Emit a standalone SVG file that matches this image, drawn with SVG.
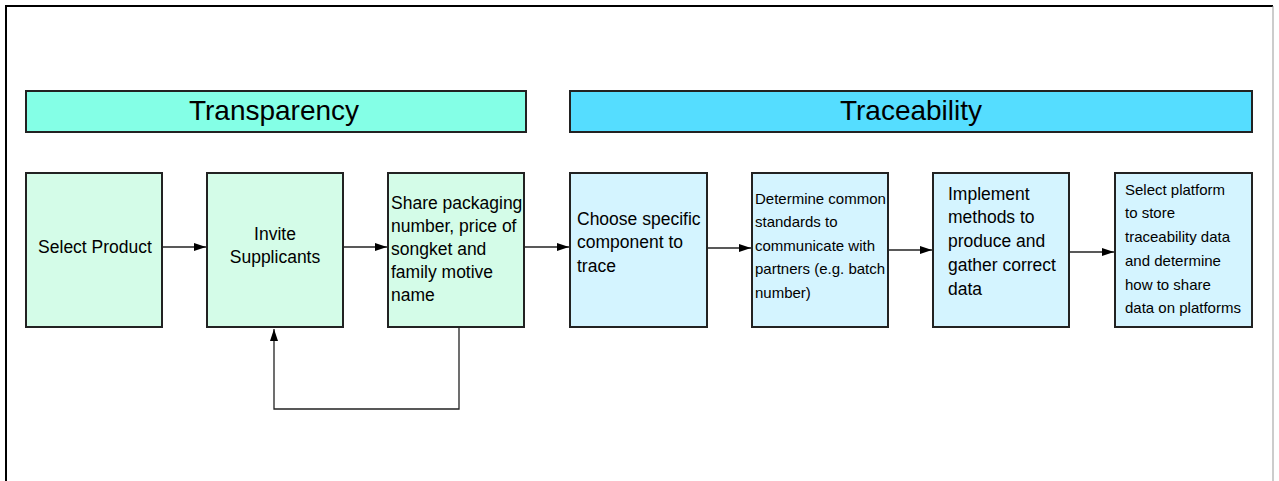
<svg xmlns="http://www.w3.org/2000/svg" width="1279" height="481" viewBox="0 0 1279 481">
<defs>
<marker id="ah" markerWidth="12" markerHeight="8" refX="12" refY="4" orient="auto" markerUnits="userSpaceOnUse"><path d="M0,0 L12,4 L0,8 Z" fill="#000"/></marker>
<style>
text{font-family:"Liberation Sans",Arial,sans-serif;fill:#000}
.hdr{font-size:28px;text-anchor:middle}
.t{font-size:17.5px}
.s{font-size:15px}
.c{text-anchor:middle}
.g{fill:#d4fce8;stroke:#222;stroke-width:2}
.b{fill:#d4f4ff;stroke:#222;stroke-width:2}
.conn{fill:none;stroke:#222;stroke-width:1.3}
</style>
</defs>
<rect x="0" y="0" width="1279" height="481" fill="#fff"/>
<path d="M6,481 L6,6 L1273,6" fill="none" stroke="#000" stroke-width="2"/>
<line x1="1273" y1="6" x2="1273" y2="481" stroke="#999" stroke-width="1"/>
<g id="transparency">
<rect x="26" y="91" width="500" height="41" fill="#84ffe6" stroke="#222" stroke-width="2"/>
<text class="hdr" x="274" y="120">Transparency</text>
</g>
<g id="traceability">
<rect x="570" y="91" width="682" height="41" fill="#55ddff" stroke="#222" stroke-width="2"/>
<text class="hdr" x="911" y="120">Traceability</text>
</g>
<g id="n1"><rect class="g" x="26" y="173" width="136" height="154"/>
<text class="t c" x="95" y="253">Select Product</text></g>
<g id="n2"><rect class="g" x="207" y="173" width="136" height="154"/>
<text class="t c" x="275" y="240">Invite</text><text class="t c" x="275" y="263">Supplicants</text></g>
<g id="n3"><rect class="g" x="388" y="173" width="136" height="154"/>
<text class="t" x="391" y="209">Share packaging</text>
<text class="t" x="391" y="232">number, price of</text>
<text class="t" x="391" y="255">songket and</text>
<text class="t" x="391" y="278">family motive</text>
<text class="t" x="391" y="301">name</text></g>
<g id="n4"><rect class="b" x="570" y="173" width="137" height="154"/>
<text class="t" x="577" y="225">Choose specific</text>
<text class="t" x="577" y="248">component to</text>
<text class="t" x="577" y="272">trace</text></g>
<g id="n5"><rect class="b" x="752" y="173" width="136" height="154"/>
<text class="s" x="755" y="204">Determine common</text>
<text class="s" x="755" y="227">standards to</text>
<text class="s" x="755" y="251">communicate with</text>
<text class="s" x="755" y="274">partners (e.g. batch</text>
<text class="s" x="755" y="298">number)</text></g>
<g id="n6"><rect class="b" x="933" y="173" width="136" height="154"/>
<text class="t" x="948" y="200">Implement</text>
<text class="t" x="948" y="223">methods to</text>
<text class="t" x="948" y="247">produce and</text>
<text class="t" x="948" y="271">gather correct</text>
<text class="t" x="948" y="295">data</text></g>
<g id="n7"><rect class="b" x="1115" y="173" width="137" height="154"/>
<text class="s" x="1125" y="195">Select platform</text>
<text class="s" x="1125" y="218">to store</text>
<text class="s" x="1125" y="242">traceability data</text>
<text class="s" x="1125" y="266">and determine</text>
<text class="s" x="1125" y="290">how to share</text>
<text class="s" x="1125" y="313">data on platforms</text></g>
<g id="connectors">
<line class="conn" x1="162" y1="247" x2="206" y2="247" marker-end="url(#ah)"/>
<line class="conn" x1="343" y1="247" x2="387" y2="247" marker-end="url(#ah)"/>
<line class="conn" x1="524" y1="247" x2="569" y2="247" marker-end="url(#ah)"/>
<line class="conn" x1="707" y1="248" x2="751" y2="248" marker-end="url(#ah)"/>
<line class="conn" x1="888" y1="250" x2="932" y2="250" marker-end="url(#ah)"/>
<line class="conn" x1="1069" y1="252" x2="1114" y2="252" marker-end="url(#ah)"/>
<path class="conn" d="M459,328 L459,409 L274,409 L274,329" marker-end="url(#ah)"/>
</g>
</svg>
